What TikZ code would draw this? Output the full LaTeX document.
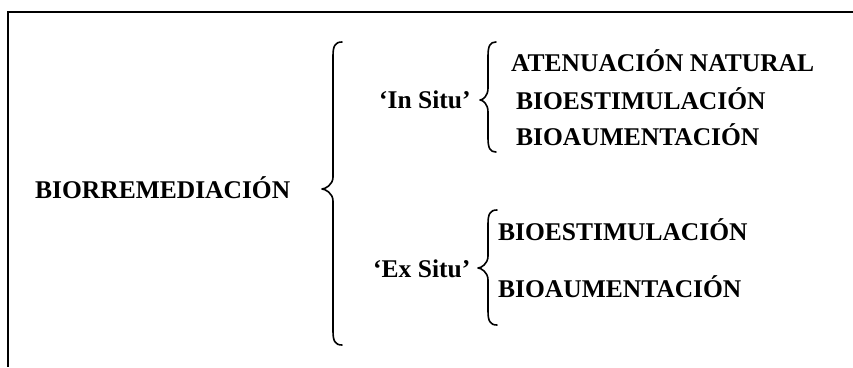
\documentclass[tikz,border=0pt]{standalone}
\usepackage{fontspec}
\setmainfont{Liberation Serif}
\begin{document}
\begin{tikzpicture}[x=1pt,y=-1pt,
  lbl/.style={anchor=base west,inner sep=0pt,font=\bfseries\fontsize{25.5}{30}\selectfont},
  brc/.style={line width=1.6pt,line cap=round,line join=round},
  frm/.style={line width=1.8pt}]
\useasboundingbox (0,0) rectangle (853,367);
% frame: top and left edges
\coordinate (tl) at (8,12);
\coordinate (tr) at (853,12);
\coordinate (bl) at (8,367);
\draw[frm] (tr) -- (tl) -- (bl);

% labels
\node[lbl] (bio) at (35,198) {BIORREMEDIACIÓN};
\node[lbl] (ins) at (379,108) {‘In Situ’};
\node[lbl] (exs) at (373,277) {‘Ex Situ’};
\node[lbl] (an)  at (511,71)  {ATENUACIÓN NATURAL};
\node[lbl] (be1) at (516,109) {BIOESTIMULACIÓN};
\node[lbl] (ba1) at (516,145) {BIOAUMENTACIÓN};
\node[lbl] (be2) at (498,240) {BIOESTIMULACIÓN};
\node[lbl] (ba2) at (498,297) {BIOAUMENTACIÓN};

% curly braces: stem s, hook length h, top t, bottom b, tip height m, tip depth d
\newcommand\curlybrace[6]{%
  \draw[brc] ({#1+#2},#3) .. controls ({#1+2},#3) and (#1,{#3+4}) .. (#1,{#3+14})
    -- (#1,{#5-12}) .. controls (#1,{#5-4}) and ({#1-#6+3},#5) .. ({#1-#6},#5)
    .. controls ({#1-#6+3},#5) and (#1,{#5+4}) .. (#1,{#5+12})
    -- (#1,{#4-14}) .. controls (#1,{#4-4}) and ({#1+2},#4) .. ({#1+#2},#4);}
\curlybrace{333}{9}{42}{345}{189}{11}
\curlybrace{488}{8}{42}{152}{100}{8}
\curlybrace{488}{9}{210}{325}{268}{10}
\end{tikzpicture}
\end{document}
